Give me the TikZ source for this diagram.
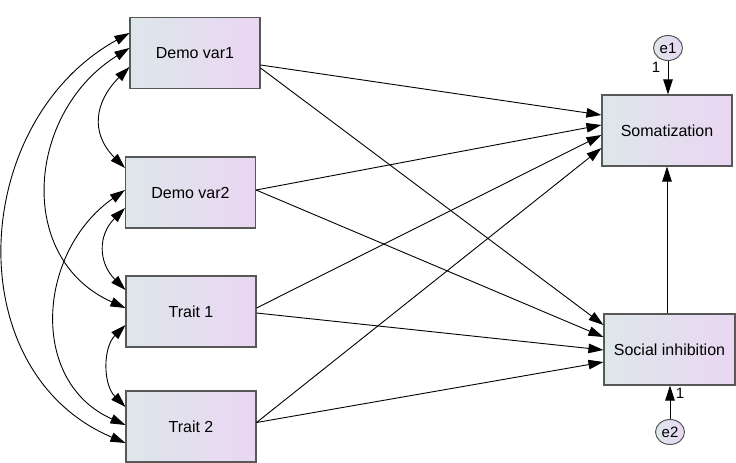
\documentclass[tikz,border=0pt]{standalone}
\usepackage{fontspec}
\setmainfont{Liberation Sans}
\usetikzlibrary{arrows.meta,shapes.geometric}
\definecolor{boxLeft}{RGB}{221,231,234}
\definecolor{boxRight}{RGB}{234,214,243}
\definecolor{boxEdge}{RGB}{88,88,88}
\newcommand{\boxWidth}{130pt}
\newcommand{\boxHeight}{71pt}
\newcommand{\labelFont}{\fontsize{16}{19}\selectfont}
\newcommand{\smallFont}{\fontsize{15}{17}\selectfont}
\tikzset{
  headTip/.tip={Triangle[length=15pt,width=9.5pt]},
  varBox/.style={draw=boxEdge, line width=1.1pt, left color=boxLeft, right color=boxRight,
    minimum width=\boxWidth, minimum height=\boxHeight, inner sep=0pt, font=\labelFont},
  errOval/.style={ellipse, draw=boxEdge, line width=1pt, left color=boxLeft, right color=boxRight,
    minimum width=29pt, minimum height=25pt, inner sep=0pt, font=\smallFont},
  oneWay/.style={-headTip, line width=0.9pt},
  twoWay/.style={headTip-headTip, line width=0.9pt},
}

\begin{document}
\begin{tikzpicture}[x=1pt, y=-1pt]
\useasboundingbox (0,0) rectangle (736,463);
\node[varBox] (demoOne) at (195,53) {Demo var1};
\node[varBox] (demoTwo) at (190.5,192.5) {Demo var2};
\node[varBox] (traitOne) at (191,311.5) {Trait 1};
\node[varBox] (traitTwo) at (191,426.5) {Trait 2};
\node[varBox] (soma) at (667,130.5) {Somatization};
\node[varBox, minimum width=131pt] (socInh) at (669.5,349.5) {Social inhibition};
\node[errOval] (eOne) at (668,48) {e1};
\node[errOval] (eTwo) at (670,432) {e2};
\node[font=\smallFont] (oneA) at (656,67) {1};
\node[font=\smallFont] (oneB) at (680,393) {1};
% covariances
\draw[twoWay] ([yshift=-14pt]demoOne.west) to[out=225, in=135, looseness=1.25] ([yshift=24.5pt]demoTwo.west);
\draw[twoWay] ([yshift=-15.5pt]demoTwo.west) to[out=225, in=135, looseness=1.2] ([yshift=21.5pt]traitOne.west);
\draw[twoWay] ([yshift=-13.5pt]traitOne.west) to[out=225, in=135, looseness=1] ([yshift=19.5pt]traitTwo.west);
\draw[twoWay] ([yshift=5pt]demoOne.west) to[out=212, in=156, looseness=1.19] ([yshift=3.5pt]traitOne.west);
\draw[twoWay] ([yshift=2.5pt]demoTwo.west) to[out=215, in=156, looseness=1.16] ([yshift=1.5pt]traitTwo.west);
\draw[twoWay] ([yshift=20pt]demoOne.west) to[out=209, in=157, looseness=1.14] ([yshift=-16.5pt]traitTwo.west);
% paths
\draw[oneWay] ([yshift=-12pt]demoOne.east) -- ([yshift=15.5pt]soma.west);
\draw[oneWay] ([yshift=2.5pt]demoTwo.east) -- ([yshift=5.5pt]soma.west);
\draw[oneWay] ([yshift=3.5pt]traitOne.east) -- ([yshift=-4.5pt]soma.west);
\draw[oneWay] ([yshift=4pt]traitTwo.east) -- ([yshift=-17.5pt]soma.west);
\draw[oneWay] ([yshift=-15pt]demoOne.east) -- ([yshift=24.5pt]socInh.west);
\draw[oneWay] ([yshift=2.5pt]demoTwo.east) -- ([yshift=12.5pt]socInh.west);
\draw[oneWay] ([yshift=-1.5pt]traitOne.east) -- ([yshift=-0.5pt]socInh.west);
\draw[oneWay] ([yshift=4pt]traitTwo.east) -- ([yshift=-12.5pt]socInh.west);
\draw[oneWay] (soma.south |- socInh.north) -- (soma.south);
\draw[oneWay] (eOne.south) -- (eOne.south |- soma.north);
\draw[oneWay] (eTwo.north) -- (eTwo.north |- socInh.south);
\end{tikzpicture}
\end{document}
